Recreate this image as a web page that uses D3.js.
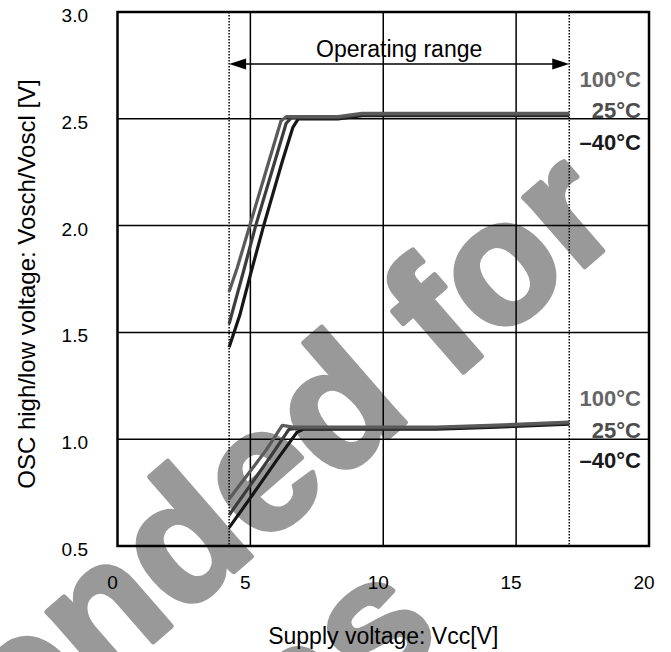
<!DOCTYPE html>
<html lang="en">
<head>
<meta charset="utf-8">
<title>OSC high/low voltage vs supply voltage</title>
<script src="https://cdn.jsdelivr.net/npm/d3@7"></script>
<style>
  body { margin: 0; background: white; }
  svg { display: block; font-family: "Liberation Sans", Arial, sans-serif; }
</style>
</head>
<body>
<script>
// ---- values ----
var xTicks = [0, 5, 10, 15, 20];
var yTicks = [0.5, 1.0, 1.5, 2.0, 2.5, 3.0];
var opRange = [4.2, 17];
var arrowLevel = 2.757;
var temps = ["100°C", "25°C", "–40°C"];

// Vosch (upper curves), [Vcc, V]
var vosch100 = [[4.2,1.69],[4.5,1.80],[5.0,2.01],[5.6,2.26],[6.15,2.49],[6.35,2.51],[8.3,2.51],[9.2,2.525],[17,2.525]];
var vosch25  = [[4.2,1.54],[4.75,1.79],[5.2,2.0],[5.8,2.25],[6.35,2.48],[6.55,2.505],[8.3,2.505],[9.2,2.52],[17,2.52]];
var voschM40 = [[4.2,1.43],[4.6,1.58],[5.0,1.77],[5.5,2.0],[6.2,2.3],[6.6,2.46],[6.8,2.5],[8.3,2.5],[9.2,2.515],[17,2.515]];

// Voscl (lower curves), [Vcc, V]
var voscl100 = [[4.2,0.72],[5.0,0.851],[5.6,0.95],[6.2,1.065],[6.6,1.057],[12,1.057],[14,1.065],[17,1.08]];
var voscl25  = [[4.2,0.645],[5.0,0.785],[5.8,0.926],[6.45,1.046],[6.8,1.052],[12,1.052],[14,1.06],[17,1.075]];
var vosclM40 = [[4.2,0.586],[5.0,0.725],[6.0,0.903],[6.75,1.032],[7.0,1.047],[12,1.047],[14,1.055],[17,1.07]];

// label levels (in volts) for the temperature tags
var labelHigh = [2.65, 2.503, 2.355];
var labelLow  = [1.155, 1.005, 0.865];

var watermark = ["Not recommended for", "new designs"];

// ---- drawing ----
var W = 671, H = 652;
var svg = d3.select("body").append("svg")
    .attr("width", W)
    .attr("height", H);

var x = d3.scaleLinear().domain([0, 20]).range([117.5, 649]);
var y = d3.scaleLinear().domain([0.5, 3.0]).range([546, 12]);

// watermark behind everything
var wm = svg.append("g")
    .attr("transform", "translate(627,230) rotate(-41)")
    .attr("fill", "#999999")
    .attr("stroke", "#999999")
    .attr("stroke-width", 5)
    .attr("stroke-linejoin", "round")
    .style("font-weight", "bold")
    .style("font-size", "175px");
var wm1 = wm.append("text")
    .attr("text-anchor", "end")
    .text(watermark[0]);
var w1 = wm1.node().getComputedTextLength();
wm.append("text")
    .attr("text-anchor", "middle")
    .attr("x", -w1 / 2 - 20)
    .attr("y", 188)
    .text(watermark[1]);

// grid
svg.append("g").selectAll("line")
    .data(xTicks.slice(1, -1))
    .enter().append("line")
    .attr("x1", function(d) { return x(d); })
    .attr("x2", function(d) { return x(d); })
    .attr("y1", y(3.0)).attr("y2", y(0.5))
    .attr("stroke", "#000").attr("stroke-width", 1.5);

svg.append("g").selectAll("line")
    .data(yTicks.slice(1, -1))
    .enter().append("line")
    .attr("y1", function(d) { return y(d); })
    .attr("y2", function(d) { return y(d); })
    .attr("x1", x(0)).attr("x2", x(20))
    .attr("stroke", "#000").attr("stroke-width", 1.5);

// operating range dotted lines
svg.append("g").selectAll("line")
    .data(opRange)
    .enter().append("line")
    .attr("x1", function(d) { return x(d); })
    .attr("x2", function(d) { return x(d); })
    .attr("y1", y(3.0)).attr("y2", y(0.5))
    .attr("stroke", "#000").attr("stroke-width", 1.5)
    .attr("stroke-dasharray", "1.5,1.5");

// arrow
var ay = y(arrowLevel);
svg.append("line")
    .attr("x1", x(opRange[0]) + 10).attr("x2", x(opRange[1]) - 10)
    .attr("y1", ay).attr("y2", ay)
    .attr("stroke", "#000").attr("stroke-width", 1.5);
svg.append("path")
    .attr("d", "M" + x(opRange[0]) + "," + ay + "l17,-5.5v11z")
    .attr("fill", "#000");
svg.append("path")
    .attr("d", "M" + x(opRange[1]) + "," + ay + "l-17,-5.5v11z")
    .attr("fill", "#000");
svg.append("text")
    .attr("x", x((opRange[0] + opRange[1]) / 2))
    .attr("y", ay - 7)
    .attr("text-anchor", "middle")
    .style("font-size", "23px")
    .text("Operating range");

// curves
var line = d3.line()
    .x(function(d) { return x(d[0]); })
    .y(function(d) { return y(d[1]); });

var series = [
  { pts: voschM40, color: "#161616" },
  { pts: vosch25,  color: "#3c3c3c" },
  { pts: vosch100, color: "#5a5a5a" },
  { pts: vosclM40, color: "#161616" },
  { pts: voscl25,  color: "#3c3c3c" },
  { pts: voscl100, color: "#5a5a5a" }
];
svg.append("g").selectAll("path")
    .data(series)
    .enter().append("path")
    .attr("d", function(d) { return line(d.pts); })
    .attr("fill", "none")
    .attr("stroke", function(d) { return d.color; })
    .attr("stroke-width", 3.2)
    .attr("stroke-linejoin", "round");

// temperature tags
var tagColors = ["#666666", "#4d4d4d", "#1a1a1a"];
[labelHigh, labelLow].forEach(function(levels) {
  svg.append("g").selectAll("text")
      .data(levels)
      .enter().append("text")
      .attr("x", x(20) - 8)
      .attr("y", function(d) { return y(d); })
      .attr("text-anchor", "end")
      .attr("fill", function(d, i) { return tagColors[i]; })
      .style("font-weight", "bold")
      .style("font-size", "22px")
      .text(function(d, i) { return temps[i]; });
});

// frame
svg.append("rect")
    .attr("x", x(0)).attr("y", y(3.0))
    .attr("width", x(20) - x(0)).attr("height", y(0.5) - y(3.0))
    .attr("fill", "none").attr("stroke", "#000").attr("stroke-width", 2.5);

// tick labels
svg.append("g").selectAll("text")
    .data(yTicks)
    .enter().append("text")
    .attr("x", 88)
    .attr("y", function(d) { return y(d) + 10; })
    .attr("text-anchor", "end")
    .style("font-size", "19px")
    .text(function(d) { return d.toFixed(1); });

svg.append("g").selectAll("text")
    .data(xTicks)
    .enter().append("text")
    .attr("x", function(d) { return x(d) - 5; })
    .attr("y", 589)
    .attr("text-anchor", "middle")
    .style("font-size", "19px")
    .text(function(d) { return d; });

// axis titles
svg.append("text")
    .attr("x", x(10))
    .attr("y", 644)
    .attr("text-anchor", "middle")
    .style("font-size", "23px")
    .text("Supply voltage: Vcc[V]");

svg.append("text")
    .attr("transform", "translate(35,284) rotate(-90)")
    .attr("text-anchor", "middle")
    .style("font-size", "24px")
    .text("OSC high/low voltage: Vosch/Voscl [V]");
</script>
</body>
</html>
